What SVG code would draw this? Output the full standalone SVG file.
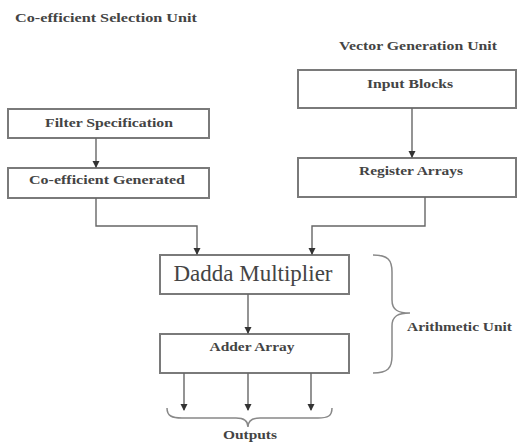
<svg xmlns="http://www.w3.org/2000/svg" width="521" height="443" viewBox="0 0 521 443">
<defs>
<style>
.box{fill:#fff;stroke:#7a7a7a;stroke-width:2}
.t{font-family:"Liberation Serif",serif;font-size:12.5px;font-weight:bold;fill:#444;text-anchor:middle}
.lbl{font-family:"Liberation Serif",serif;font-size:12.5px;font-weight:bold;fill:#444}
.big{font-family:"Liberation Serif",serif;font-size:23px;fill:#444;text-anchor:middle}
.ln{fill:none;stroke:#666;stroke-width:1.4}
.br{fill:none;stroke:#888;stroke-width:1.5}
</style>
<marker id="ah" markerWidth="8" markerHeight="8" refX="6" refY="4" orient="auto" markerUnits="userSpaceOnUse">
<path d="M0,0.5 L7,4 L0,7.5 Z" fill="#333"/>
</marker>
</defs>
<rect width="521" height="443" fill="#fff"/>
<text class="lbl" x="15" y="22" textLength="182" lengthAdjust="spacingAndGlyphs">Co-efficient Selection Unit</text>
<text class="lbl" x="339" y="50" textLength="158" lengthAdjust="spacingAndGlyphs">Vector Generation Unit</text>
<g id="filter"><rect class="box" x="8" y="109" width="201" height="29"/><text class="t" x="109" y="127" textLength="128" lengthAdjust="spacingAndGlyphs">Filter Specification</text></g>
<g id="coeff"><rect class="box" x="8" y="168" width="201" height="30"/><text class="t" x="107" y="184" textLength="156" lengthAdjust="spacingAndGlyphs">Co-efficient Generated</text></g>
<g id="input"><rect class="box" x="298" y="70" width="218" height="38"/><text class="t" x="410" y="88" textLength="86" lengthAdjust="spacingAndGlyphs">Input Blocks</text></g>
<g id="register"><rect class="box" x="298" y="158" width="218" height="39"/><text class="t" x="411" y="175" textLength="104" lengthAdjust="spacingAndGlyphs">Register Arrays</text></g>
<g id="dadda"><rect class="box" x="160" y="255" width="189" height="39"/><text class="big" x="253" y="281" textLength="159" lengthAdjust="spacingAndGlyphs">Dadda Multiplier</text></g>
<g id="adder"><rect class="box" x="160" y="334" width="189" height="39"/><text class="t" x="252" y="351" textLength="85" lengthAdjust="spacingAndGlyphs">Adder Array</text></g>
<g id="arith"><path class="br" d="M373,255 C388,255 392,260 392,272 L392,300 C392,310 398,313 410,313 C398,313 392,316 392,326 L392,356 C392,368 388,373 373,373"/><text class="lbl" x="407" y="331" textLength="105" lengthAdjust="spacingAndGlyphs">Arithmetic Unit</text></g>
<g id="outputs"><path class="br" d="M167,408 C167,416 172,418 182,418 L236,418 C244,418 248,421 248,427 C248,421 252,418 260,418 L318,418 C328,418 332,416 332,408"/><text class="t" x="250" y="439" font-size="11.5" textLength="54" lengthAdjust="spacingAndGlyphs">Outputs</text></g>
<g id="connectors">
<line class="ln" x1="96" y1="138" x2="96" y2="167" marker-end="url(#ah)"/>
<line class="ln" x1="412" y1="108" x2="412" y2="157" marker-end="url(#ah)"/>
<polyline class="ln" points="96,198 96,226 197,226 197,254" marker-end="url(#ah)"/>
<polyline class="ln" points="425,197 425,226 312,226 312,254" marker-end="url(#ah)"/>
<line class="ln" x1="248" y1="294" x2="248" y2="333" marker-end="url(#ah)"/>
<line class="ln" x1="184" y1="373" x2="184" y2="410" marker-end="url(#ah)"/>
<line class="ln" x1="248" y1="373" x2="248" y2="410" marker-end="url(#ah)"/>
<line class="ln" x1="311" y1="373" x2="311" y2="410" marker-end="url(#ah)"/>
</g>
</svg>
